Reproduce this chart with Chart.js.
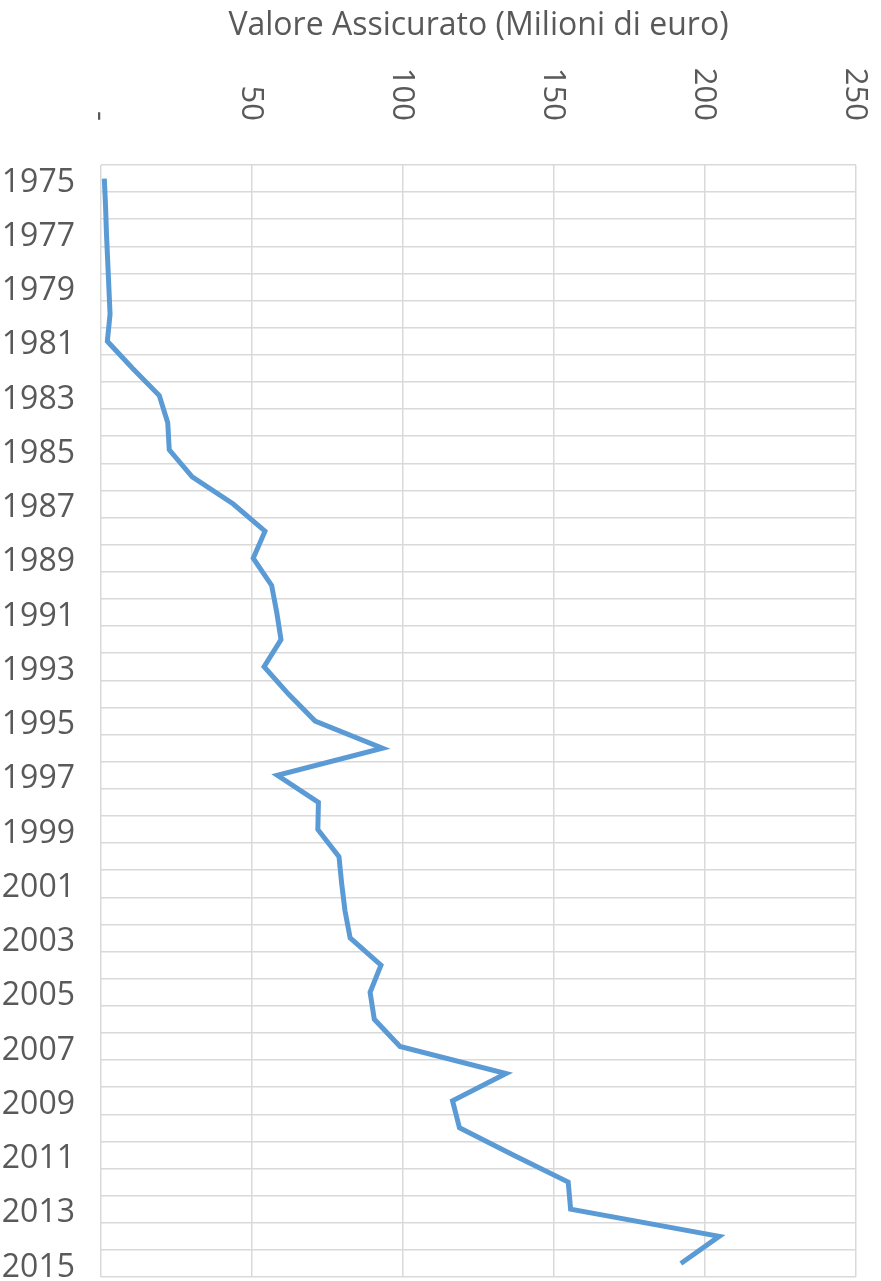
<!DOCTYPE html>
<html>
<head>
<meta charset="utf-8">
<script src="https://cdn.jsdelivr.net/npm/chart.js@4/dist/chart.umd.min.js"></script>
<style>
  html, body { margin: 0; padding: 0; background: #fff; }
  #wrap { width: 881px; height: 1281px; }
</style>
</head>
<body>
<div id="wrap"><canvas id="myChart" width="881" height="1281"></canvas></div>
<script>
// data
var years = [];
for (var y = 1975; y <= 2015; y++) years.push(String(y));

var valori = [
  1.1, 1.5, 1.8, 2.2, 2.6, 3.0, 2.1, 10.5, 19.3, 22.1,
  22.6, 30.2, 43.8, 54.3, 50.4, 56.5, 58.2, 59.6, 54.0, 62.0,
  70.9, 93.2, 58.4, 72.0, 71.8, 78.8, 79.7, 80.8, 82.5, 92.7,
  89.1, 90.5, 99.0, 134.1, 116.4, 118.7, 136.5, 154.7, 155.5, 204.7,
  192.0
];

var xTicks = [0, 50, 100, 150, 200, 250];
var xTickLabels = ['-', '50', '100', '150', '200', '250'];
var titolo = 'Valore Assicurato (Milioni di euro)';

var grigio = '#595959';
var font = '"Open Sans", sans-serif';

// top axis: title + labels rotated clockwise
var topAxis = {
  id: 'topAxis',
  afterDraw: function(chart) {
    var c = chart.ctx;
    var sx = chart.scales.x;
    c.save();
    c.fillStyle = grigio;
    c.font = '32px ' + font;
    c.textAlign = 'center';
    c.textBaseline = 'middle';
    c.fillText(titolo, (chart.chartArea.left + chart.chartArea.right) / 2, 26);
    c.font = '31px ' + font;
    c.textAlign = 'right';
    for (var i = 0; i < xTicks.length; i++) {
      c.save();
      c.translate(sx.getPixelForValue(xTicks[i]), 121);
      c.rotate(Math.PI / 2);
      c.fillText(xTickLabels[i], 0, 1);
      c.restore();
    }
    c.restore();
  }
};

var ctx = document.getElementById('myChart').getContext('2d');
var myChart = new Chart(ctx, {
  type: 'line',
  data: {
    labels: years,
    datasets: [{
      data: valori,
      borderColor: '#5b9bd5',
      backgroundColor: '#5b9bd5',
      borderWidth: 5,
      pointRadius: 0,
      tension: 0,
      borderJoinStyle: 'miter'
    }]
  },
  options: {
    indexAxis: 'y',
    responsive: false,
    animation: false,
    layout: { padding: { top: 0, right: 25, bottom: 4, left: 0 } },
    plugins: {
      legend: { display: false },
      tooltip: { enabled: false }
    },
    scales: {
      x: {
        type: 'linear',
        position: 'top',
        min: 0,
        max: 250,
        ticks: { display: false, stepSize: 50 },
        grid: { color: '#d9d9d9', lineWidth: 1.5, drawTicks: false },
        border: { display: false },
        afterFit: function(s) {
          s.height = 165;
          s.paddingLeft = 0; s.paddingRight = 0;
        }
      },
      y: {
        type: 'category',
        offset: true,
        ticks: {
          autoSkip: false,
          padding: 26,
          labelOffset: 4,
          color: grigio,
          font: { family: font, size: 32 },
          callback: function(v, i) { return i % 2 === 0 ? years[i] : ''; }
        },
        grid: { offset: true, color: '#d9d9d9', lineWidth: 1.5, drawTicks: false },
        border: { display: false },
        afterFit: function(s) {
          s.width = 101;
          s.paddingTop = 0; s.paddingBottom = 0;
        }
      }
    }
  },
  plugins: [topAxis]
});
</script>
</body>
</html>
